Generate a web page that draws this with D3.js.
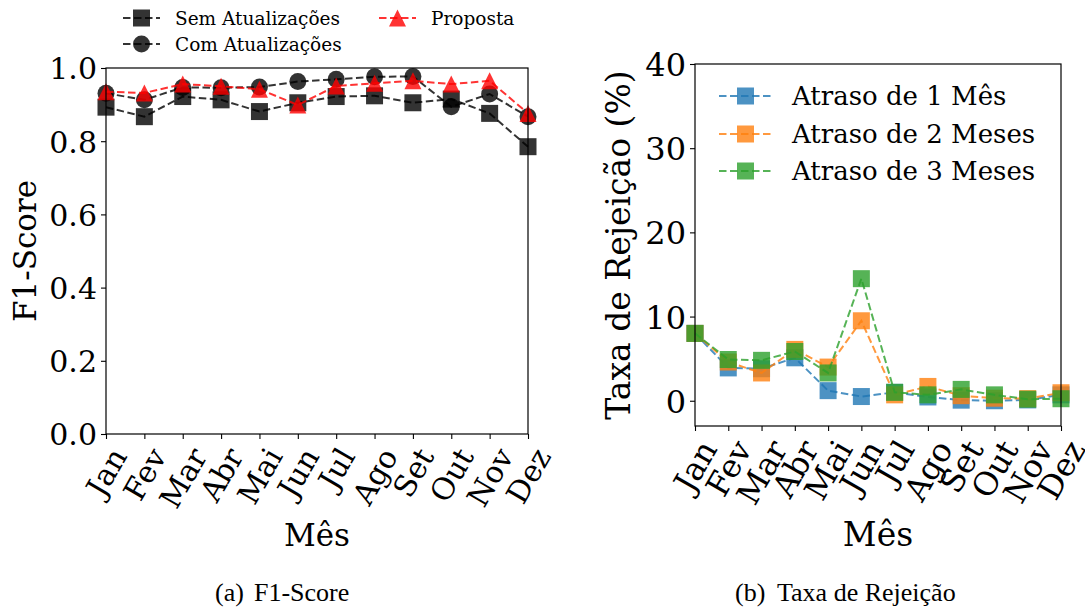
<!DOCTYPE html>
<html>
<head>
<meta charset="utf-8">
<script src="https://cdn.jsdelivr.net/npm/d3@7"></script>
<style>
  html, body { margin: 0; padding: 0; background: #fff; }
  svg { display: block; }
  text { font-family: "DejaVu Serif", serif; fill: #000; }
  .cap { font-family: "Liberation Serif", "Times New Roman", serif; }
</style>
</head>
<body>
<svg id="chart" width="1085" height="610"></svg>
<script>
// ---------- data ----------
const months = ["Jan","Fev","Mar","Abr","Mai","Jun","Jul","Ago","Set","Out","Nov","Dez"];

const f1Sem  = [0.893, 0.867, 0.922, 0.913, 0.881, 0.905, 0.922, 0.924, 0.905, 0.915, 0.876, 0.785];
const f1Com  = [0.931, 0.913, 0.947, 0.946, 0.948, 0.963, 0.969, 0.976, 0.977, 0.894, 0.929, 0.867];
const f1Prop = [0.935, 0.932, 0.956, 0.950, 0.942, 0.899, 0.951, 0.958, 0.965, 0.956, 0.965, 0.876];

const rej1 = [8.0, 3.9, 3.8, 5.1, 1.2, 0.5, 1.0, 0.45, 0.07, 0.0, 0.1, 0.7];
const rej2 = [8.0, 4.6, 3.3, 6.1, 4.0, 9.5, 0.7, 1.7, 0.6, 0.3, 0.25, 0.95];
const rej3 = [8.0, 4.9, 4.8, 5.85, 3.3, 14.5, 1.0, 0.7, 1.35, 0.7, 0.18, 0.24];

const f1Ticks  = [0.0, 0.2, 0.4, 0.6, 0.8, 1.0];
const rejTicks = [0, 10, 20, 30, 40];

const f1Names  = ["Sem Atualizações", "Com Atualizações", "Proposta"];
const rejNames = ["Atraso de 1 Mês", "Atraso de 2 Meses", "Atraso de 3 Meses"];

// ---------- setup ----------
const svg = d3.select("#chart");
const MS = 17; // marker size

function markerPath(kind, s) {
  const h = s / 2;
  if (kind === "square") return `M${-h},${-h}H${h}V${h}H${-h}Z`;
  if (kind === "circle") return d3.symbol(d3.symbolCircle, Math.PI * h * h)();
  return `M0,${-h}L${-h},${h}L${h},${h}Z`; // triangle up
}

function rotateTicks(axisG, fontSize, topOffset) {
  axisG.selectAll(".tick text").each(function() {
    const t = d3.select(this);
    t.attr("y", null).attr("dy", null)
     .attr("text-anchor", "middle")
     .attr("dominant-baseline", "central");
    const w = this.getComputedTextLength();
    const h = fontSize * 1.17;
    const a = Math.PI / 3;
    const H = w * Math.sin(a) + h * Math.cos(a);
    t.attr("transform", `translate(0,${topOffset + H / 2}) rotate(-60)`);
  });
}

function drawPanel(cfg) {
  const g = svg.append("g");
  const x = d3.scalePoint().domain(months).range([cfg.x0, cfg.x1]);
  const y = d3.scaleLinear().domain(cfg.yDomain).range([cfg.yb, cfg.yt]);

  // axes
  const ax = g.append("g").attr("transform", `translate(0,${cfg.yb})`)
    .call(d3.axisBottom(x).tickSize(5).tickPadding(3));
  ax.select(".domain").remove();
  ax.selectAll(".tick line").attr("stroke", "#000").attr("stroke-width", 1.1);
  ax.selectAll(".tick text").attr("font-size", cfg.tickFs).attr("font-family", "DejaVu Serif");
  rotateTicks(ax, cfg.tickFs, 8);

  const ay = g.append("g").attr("transform", `translate(${cfg.x0},0)`)
    .call(d3.axisLeft(y).tickValues(cfg.ticks).tickFormat(cfg.fmt).tickSize(5).tickPadding(4));
  ay.select(".domain").remove();
  ay.selectAll(".tick line").attr("stroke", "#000").attr("stroke-width", 1.1);
  ay.selectAll(".tick text").attr("font-size", cfg.tickFs).attr("font-family", "DejaVu Serif")
    .attr("dy", "0.36em");

  // series
  cfg.series.forEach(s => {
    const line = d3.line().x((d, i) => x(months[i])).y(d => y(d));
    g.append("path").datum(s.values)
      .attr("d", line).attr("fill", "none")
      .attr("stroke", s.color).attr("stroke-opacity", 0.8)
      .attr("stroke-width", 2).attr("stroke-dasharray", "7.5,3.5");
    g.append("g").selectAll("path").data(s.values).join("path")
      .attr("d", markerPath(s.marker, MS))
      .attr("transform", (d, i) => `translate(${x(months[i])},${y(d)})`)
      .attr("fill", s.color).attr("fill-opacity", 0.8);
  });

  // frame
  g.append("rect")
    .attr("x", cfg.x0).attr("y", cfg.yt)
    .attr("width", cfg.x1 - cfg.x0).attr("height", cfg.yb - cfg.yt)
    .attr("fill", "none").attr("stroke", "#000").attr("stroke-width", 1.2);

  // axis labels
  g.append("text").attr("x", (cfg.x0 + cfg.x1) / 2).attr("y", cfg.xlabY)
    .attr("text-anchor", "middle").attr("font-size", cfg.labFs).text("Mês");
  g.append("text")
    .attr("transform", `translate(${cfg.ylabX},${(cfg.yt + cfg.yb) / 2}) rotate(-90)`)
    .attr("text-anchor", "middle").attr("dominant-baseline", "central")
    .attr("font-size", cfg.labFs).text(cfg.ylab);

  // legend
  cfg.series.forEach((s, i) => {
    const L = cfg.legend[i];
    const lg = svg.append("g");
    lg.append("line").attr("x1", L.x1).attr("x2", L.x2).attr("y1", L.y).attr("y2", L.y)
      .attr("stroke", s.color).attr("stroke-opacity", 0.8).attr("stroke-width", 2)
      .attr("stroke-dasharray", "7.5,3.5");
    lg.append("path").attr("d", markerPath(s.marker, MS))
      .attr("transform", `translate(${(L.x1 + L.x2) / 2},${L.y})`)
      .attr("fill", s.color).attr("fill-opacity", 0.8);
    lg.append("text").attr("x", L.tx).attr("y", L.y).attr("dy", "0.36em")
      .attr("font-size", cfg.legFs).text(s.name);
  });
}

drawPanel({
  x0: 106, x1: 528, yt: 68, yb: 434, yDomain: [0, 1],
  ticks: f1Ticks, fmt: d3.format(".1f"),
  tickFs: 30, labFs: 31, legFs: 18.5,
  xlabY: 546, ylabX: 25, ylab: "F1-Score",
  series: [
    { name: f1Names[0], values: f1Sem,  color: "#000000", marker: "square" },
    { name: f1Names[1], values: f1Com,  color: "#000000", marker: "circle" },
    { name: f1Names[2], values: f1Prop, color: "#ff0000", marker: "triangle" }
  ],
  legend: [
    { x1: 123, x2: 160, y: 18, tx: 175 },
    { x1: 123, x2: 160, y: 44, tx: 175 },
    { x1: 379, x2: 416, y: 18, tx: 431 }
  ]
});

drawPanel({
  x0: 695, x1: 1061, yt: 64, yb: 426, yDomain: [-3, 40],
  ticks: rejTicks, fmt: d3.format("d"),
  tickFs: 32, labFs: 33, legFs: 26,
  xlabY: 546, ylabX: 618, ylab: "Taxa de Rejeição (%)",
  series: [
    { name: rejNames[0], values: rej1, color: "#1f77b4", marker: "square" },
    { name: rejNames[1], values: rej2, color: "#ff7f0e", marker: "square" },
    { name: rejNames[2], values: rej3, color: "#2ca02c", marker: "square" }
  ],
  legend: [
    { x1: 719, x2: 772, y: 96, tx: 792 },
    { x1: 719, x2: 772, y: 134, tx: 792 },
    { x1: 719, x2: 772, y: 171, tx: 792 }
  ]
});

// captions
[
  { a: "(a)", b: "F1-Score", xa: 215, xb: 254 },
  { a: "(b)", b: "Taxa de Rejeição", xa: 735, xb: 777 }
].forEach(c => {
  svg.append("text").attr("class", "cap").attr("x", c.xa).attr("y", 601)
    .attr("font-size", 26).text(c.a);
  svg.append("text").attr("class", "cap").attr("x", c.xb).attr("y", 601)
    .attr("font-size", 26).text(c.b);
});
</script>
</body>
</html>
